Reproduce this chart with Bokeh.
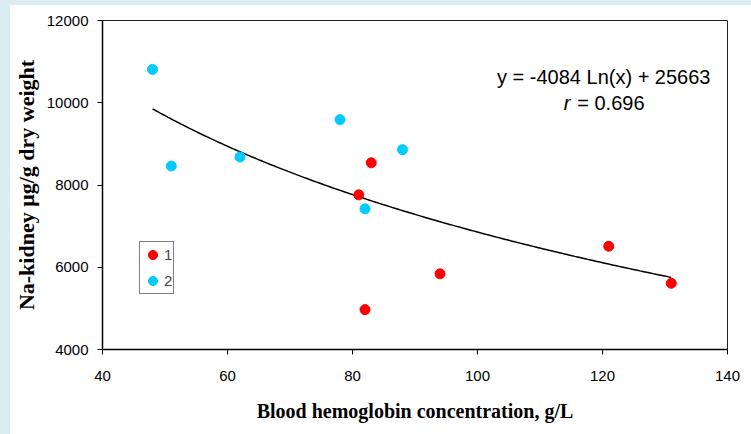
import numpy as np
from bokeh.plotting import figure
from bokeh.layouts import column, row
from bokeh.models import (Range1d, FixedTicker, Legend, LegendItem, Label, Spacer)
from bokeh.embed import file_html
from bokeh.resources import INLINE

# ---- data ----
group1_x = [83, 81, 82, 94, 121, 131]
group1_y = [8540, 7760, 4970, 5840, 6510, 5610]
group2_x = [48, 51, 62, 78, 88, 82]
group2_y = [10810, 8460, 8680, 9590, 8860, 7420]

# logarithmic trend line printed on the chart: y = a*ln(x) + b
trend_a = -4084
trend_b = 25663
trend_x_start = 48
trend_x_end = 131

x_ticks = [40, 60, 80, 100, 120, 140]
x_tick_labels = ["40", "60", "80", "100", "120", "140"]
y_ticks = [4000, 6000, 8000, 10000, 12000]
y_tick_labels = ["4000", "6000", "8000", "10000", "12000"]

series_labels = ["1", "2"]
equation_text = "y = -4084 Ln(x) + 25663"
r_text = "= 0.696"

RED = "#ff0000"
BLUE = "#00ccff"
PAGE_BLUE = "#daedf3"

p = figure(width=741, height=429, output_backend="svg", toolbar_location=None,
           x_range=Range1d(40, 140), y_range=Range1d(4000, 12000),
           min_border_left=90, min_border_right=24, min_border_top=15,
           min_border_bottom=85)
p.background_fill_color = "white"
p.border_fill_color = "white"
p.outline_line_color = "#222222"
p.outline_line_width = 1
p.xgrid.visible = False
p.ygrid.visible = False

for ax, ticks, labels in ((p.xaxis[0], x_ticks, x_tick_labels),
                          (p.yaxis[0], y_ticks, y_tick_labels)):
    ax.ticker = FixedTicker(ticks=ticks, minor_ticks=[])
    ax.major_label_overrides = {t: l for t, l in zip(ticks, labels)}
    ax.major_label_text_font = "Liberation Sans"
    ax.major_label_text_font_size = "15px"
    ax.major_label_text_color = "black"
    ax.axis_line_color = "black"
    ax.axis_line_width = 1.5
    ax.major_tick_line_color = "black"
    ax.major_tick_line_width = 1
    ax.major_tick_in = 0
    ax.major_tick_out = 5
    ax.minor_tick_line_color = None
    ax.axis_label_text_font = "Liberation Serif"
    ax.axis_label_text_font_style = "bold"
    ax.axis_label_text_color = "black"

p.xaxis.axis_label = "Blood hemoglobin concentration, g/L"
p.xaxis.axis_label_text_font_size = "20px"
p.xaxis.major_label_standoff = 16
p.xaxis.axis_label_standoff = 16

p.yaxis.axis_label = "Na-kidney \u03bcg/g dry weight"
p.yaxis.axis_label_text_font_size = "22px"
p.yaxis.major_label_standoff = 9
p.yaxis.axis_label_standoff = 5

# trend line
tx = np.linspace(trend_x_start, trend_x_end, 200)
ty = trend_a * np.log(tx) + trend_b
p.line(tx, ty, line_color="black", line_width=1.5)

r1 = p.scatter(group1_x, group1_y, size=10, fill_color=RED, line_color=RED)
r2 = p.scatter(group2_x, group2_y, size=10, fill_color=BLUE, line_color=BLUE)

legend = Legend(items=[LegendItem(label=series_labels[0], renderers=[r1]),
                       LegendItem(label=series_labels[1], renderers=[r2])],
                location=(37, 55), margin=0, padding=1, spacing=3,
                glyph_width=23, glyph_height=23, label_standoff=0,
                label_width=0, label_height=0,
                label_text_font="Liberation Sans", label_text_font_size="15px",
                border_line_color="black", border_line_width=1,
                background_fill_color="white", background_fill_alpha=1)
p.add_layout(legend, "center")

eq_x = 120.2
p.add_layout(Label(x=eq_x, y=10638, text=equation_text, text_align="center",
                   text_baseline="alphabetic", text_font="Liberation Sans",
                   text_font_size="20px", text_color="black"))
p.add_layout(Label(x=eq_x, y=9994, x_offset=-40, text="r", text_align="left",
                   text_baseline="alphabetic", text_font="Liberation Sans",
                   text_font_style="italic",
                   text_font_size="20px", text_color="black"))
p.add_layout(Label(x=eq_x, y=9994, x_offset=-26.5, text=r_text, text_align="left",
                   text_baseline="alphabetic", text_font="Liberation Sans",
                   text_font_size="20px", text_color="black"))

top_strip = Spacer(width=751, height=5, styles={"background-color": PAGE_BLUE})
left_strip = Spacer(width=10, height=429, styles={"background-color": PAGE_BLUE})
layout = column(top_strip, row(left_strip, p, spacing=0), spacing=0)

open("out.html", "w").write(file_html(layout, INLINE))
